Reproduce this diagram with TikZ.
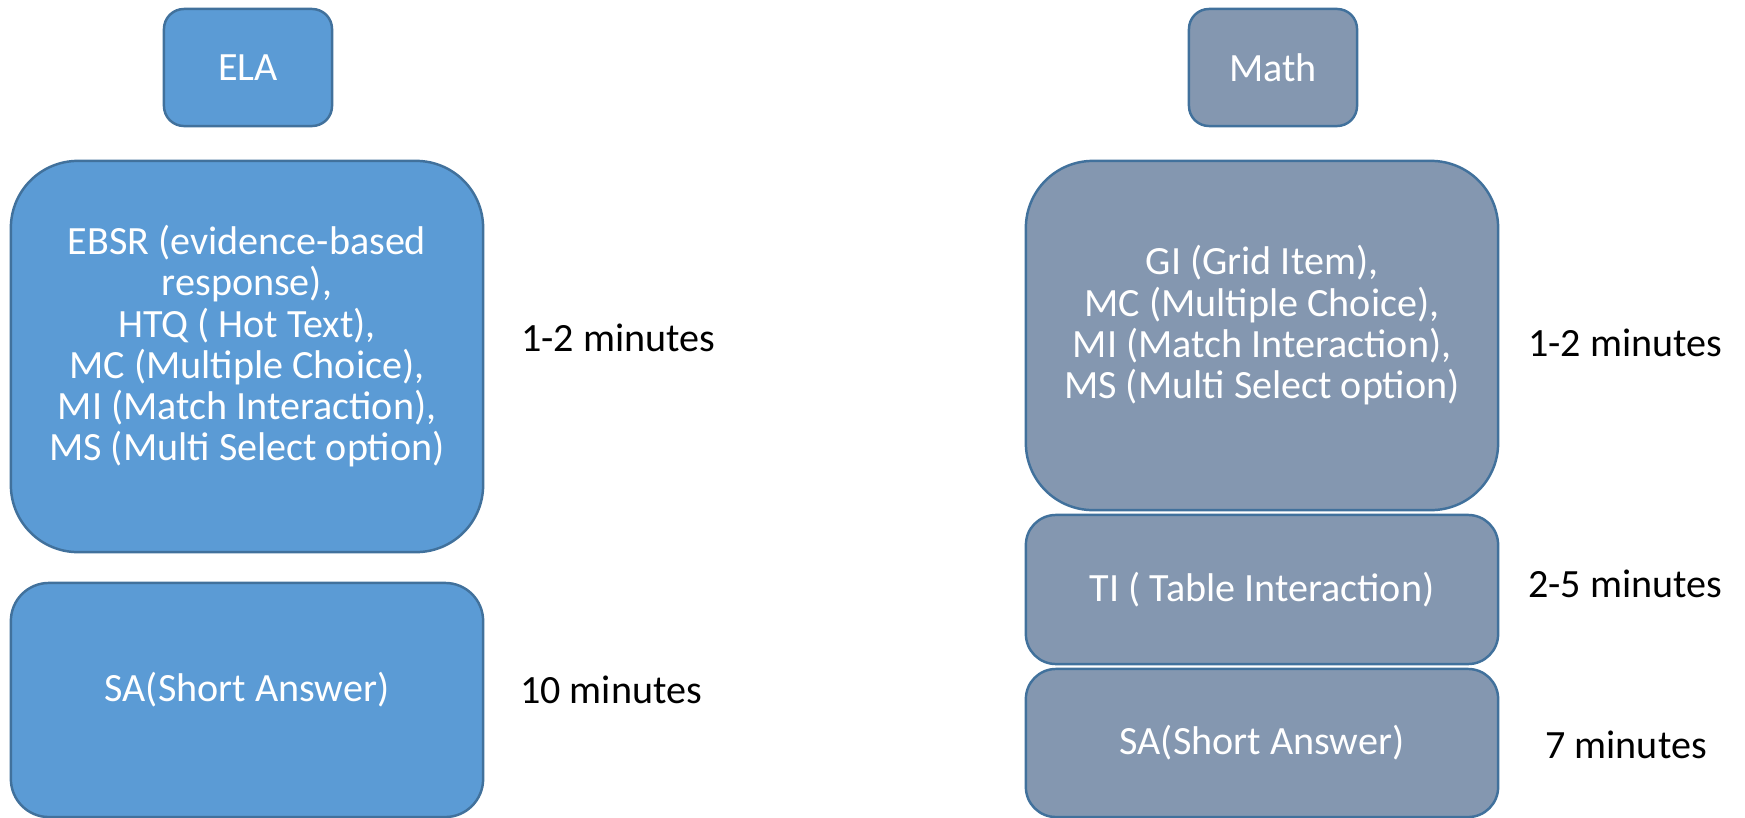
\documentclass[tikz,border=0pt]{standalone}
\usepackage{fontspec}
\setmainfont{Carlito}
\usepackage{tikz}
\usetikzlibrary{positioning}
\definecolor{ela-blue}{HTML}{5B9BD5}
\definecolor{math-grey}{HTML}{8497B0}
\definecolor{box-edge}{HTML}{41719C}

\begin{document}
\begin{tikzpicture}[x=0.01cm, y=-0.01cm]
				\tikzset{box/.style={rectangle, draw=box-edge, line width=0.7pt, text=white, align=center, font=\fontsize{11.4}{11.7}\selectfont}}
				\tikzset{elabox/.style={box, fill=ela-blue}}
				\tikzset{mathbox/.style={box, fill=math-grey}}
				\tikzset{lift/.style={text depth=0.27cm}}
				\tikzset{time/.style={font=\fontsize{11.4}{11.7}\selectfont, text=black}}
				\useasboundingbox (0,0) rectangle (1745,818);
				
				% ELA column
				\node[elabox, rounded corners=0.2cm, minimum width=1.68cm, minimum height=1.17cm] (ela) at (248,67.5) {ELA};
				\node[elabox, lift, rounded corners=0.67cm, minimum width=4.72cm, minimum height=3.91cm] (elaobj) at (247,356.5)
				{EBSR (evidence-based\\response),\\HTQ ( Hot Text),\\MC (Multiple Choice),\\MI (Match Interaction),\\MS (Multi Select option)};
				\node[elabox, lift, rounded corners=0.38cm, minimum width=4.72cm, minimum height=2.34cm] (elasa) at (247,700) {SA(Short Answer)};
				\node[time] (elaobjtime) at (618,338) {1-2 minutes};
				\node[time] (elasatime) at (611,690) {10 minutes};
				
				% Math column
				\node[mathbox, rounded corners=0.2cm, minimum width=1.68cm, minimum height=1.17cm] (math) at (1273,67.5) {Math};
				\node[mathbox, lift, rounded corners=0.67cm, minimum width=4.72cm, minimum height=3.49cm] (mathobj) at (1262,335.5)
				{GI (Grid Item),\\MC (Multiple Choice),\\MI (Match Interaction),\\MS (Multi Select option)};
				\node[mathbox, rounded corners=0.3cm, minimum width=4.72cm, minimum height=1.49cm] (mathti) at (1262,589.5) {TI ( Table Interaction)};
				\node[mathbox, rounded corners=0.3cm, minimum width=4.72cm, minimum height=1.48cm] (mathsa) at (1262,743) {SA(Short Answer)};
				\node[time] (mathobjtime) at (1625,343) {1-2 minutes};
				\node[time] (mathtitime) at (1625,584) {2-5 minutes};
				\node[time] (mathsatime) at (1626,745) {7 minutes};
\end{tikzpicture}
\end{document}
